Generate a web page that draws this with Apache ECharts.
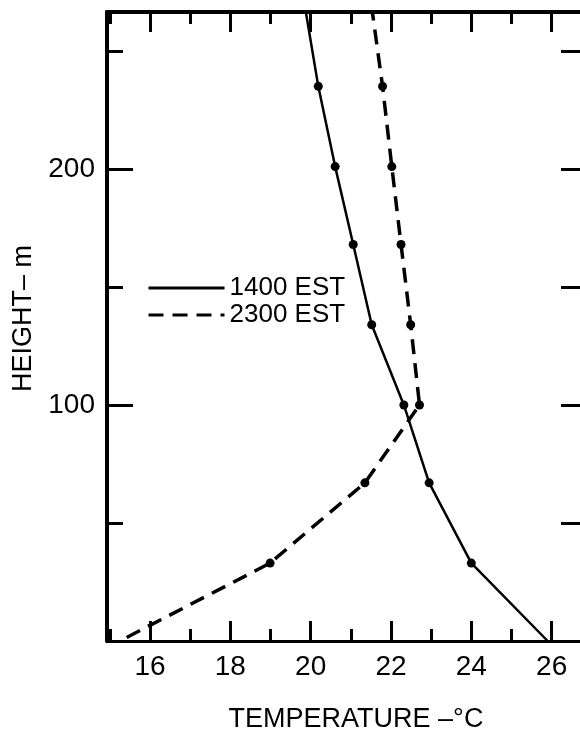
<!DOCTYPE html>
<html>
<head>
<meta charset="utf-8">
<script src="https://cdn.jsdelivr.net/npm/echarts@6/dist/echarts.min.js"></script>
<style>
  html, body { margin: 0; padding: 0; background: #fff; }
  #chart { width: 580px; height: 733px; }
</style>
</head>
<body>
<div id="chart"></div>
<script>
// temperature profiles, height in m, temperature in deg C
var heights1400 = [0, 33, 67, 100, 134, 168, 201, 235, 266.5];
var temps1400 = [25.9, 24.0, 22.95, 22.32, 21.52, 21.06, 20.61, 20.19, 19.88];
var heights2300 = [1.5, 33, 67, 100, 134, 168, 201, 235, 266];
var temps2300 = [15.42, 18.99, 21.35, 22.71, 22.49, 22.25, 22.02, 21.79, 21.54];

var xMajor = [16, 18, 20, 22, 24, 26];
var xMinor = [15, 17, 19, 21, 23, 25];
var yLabeled = [100, 200];
var yMinor = [50, 150, 250];
var yRight = [50, 100, 150, 200, 250];

var FONT = 'Liberation Sans';
var BLACK = '#000';

function pairs(xs, ys) {
    var out = [];
    for (var i = 0; i < xs.length; i++) {
        out.push([xs[i], ys[i]]);
    }
    return out;
}

// no dot on the first and last point of each curve
function dotSize(n) {
    return function (val, params) {
        return (params.dataIndex === 0 || params.dataIndex === n - 1) ? 0 : 9;
    };
}

var xMin = 14.93, xMax = 26.73;
var yMin = 0, yMax = 266.5;

function xAxisDef(pos, ticks, len, showLine, showLabel) {
    return {
        type: 'value',
        position: pos,
        min: xMin,
        max: xMax,
        splitLine: { show: false },
        axisLine: { show: showLine, onZero: false, lineStyle: { color: BLACK, width: pos === 'top' ? 4 : 3 } },
        axisTick: { show: true, inside: true, length: len, customValues: ticks, lineStyle: { color: BLACK, width: 3 } },
        axisLabel: showLabel ? {
            show: true, customValues: xMajor, margin: 12,
            color: BLACK, fontFamily: FONT, fontSize: 28
        } : { show: false }
    };
}

var chart = echarts.init(document.getElementById('chart'));

var option = {
    animation: false,
    backgroundColor: '#fff',
    grid: {
        left: 107,
        top: 12,
        width: 474,
        height: 629,
        containLabel: false,
        outerBoundsMode: 'none'
    },
    legend: {
        orient: 'vertical',
        left: 147,
        top: 275,
        padding: 0,
        itemWidth: 76,
        itemHeight: 2,
        itemGap: 1,
        data: ['1400 EST', '2300 EST'],
        lineStyle: { width: 3 },
        textStyle: { color: BLACK, fontFamily: FONT, fontSize: 26, lineHeight: 24 }
    },
    xAxis: [
        Object.assign(xAxisDef('bottom', xMajor, 20, true, true), {
            name: 'TEMPERATURE –°C',
            nameLocation: 'middle',
            nameGap: 65,
            nameTextStyle: { color: BLACK, fontFamily: FONT, fontSize: 27, padding: [0, 0, 0, 24] }
        }),
        xAxisDef('bottom', xMinor, 12, false, false),
        xAxisDef('top', xMajor, 20, true, false),
        xAxisDef('top', xMinor, 12, false, false)
    ],
    yAxis: [
        {
            type: 'value',
            position: 'left',
            min: yMin,
            max: yMax,
            splitLine: { show: false },
            axisLine: { show: true, onZero: false, lineStyle: { color: BLACK, width: 4 } },
            axisTick: { show: true, inside: true, length: 26, customValues: yLabeled, lineStyle: { color: BLACK, width: 3 } },
            axisLabel: { show: true, customValues: yLabeled, margin: 12, color: BLACK, fontFamily: FONT, fontSize: 28 },
            name: 'HEIGHT– m',
            nameLocation: 'middle',
            nameRotate: 90,
            nameGap: 69,
            nameTextStyle: { color: BLACK, fontFamily: FONT, fontSize: 27, padding: [0, 0, 0, 16] }
        },
        {
            type: 'value',
            position: 'left',
            min: yMin,
            max: yMax,
            splitLine: { show: false },
            axisLine: { show: false },
            axisTick: { show: true, inside: true, length: 16, customValues: yMinor, lineStyle: { color: BLACK, width: 3 } },
            axisLabel: { show: false }
        },
        {
            type: 'value',
            position: 'right',
            min: yMin,
            max: yMax,
            splitLine: { show: false },
            axisLine: { show: false },
            axisTick: { show: true, inside: true, length: 20, customValues: yRight, lineStyle: { color: BLACK, width: 3 } },
            axisLabel: { show: false }
        }
    ],
    series: [
        {
            name: '1400 EST',
            type: 'line',
            xAxisIndex: 0,
            yAxisIndex: 0,
            data: pairs(temps1400, heights1400),
            symbol: 'circle',
            symbolSize: dotSize(temps1400.length),
            showAllSymbol: true,
            itemStyle: { color: BLACK },
            lineStyle: { color: BLACK, width: 2.5, type: 'solid' },
            emphasis: { disabled: true }
        },
        {
            name: '2300 EST',
            type: 'line',
            xAxisIndex: 0,
            yAxisIndex: 0,
            data: pairs(temps2300, heights2300),
            symbol: 'circle',
            symbolSize: dotSize(temps2300.length),
            showAllSymbol: true,
            itemStyle: { color: BLACK },
            lineStyle: { color: BLACK, width: 3.5, type: [15, 9] },
            emphasis: { disabled: true }
        }
    ]
};

chart.setOption(option);
</script>
</body>
</html>
